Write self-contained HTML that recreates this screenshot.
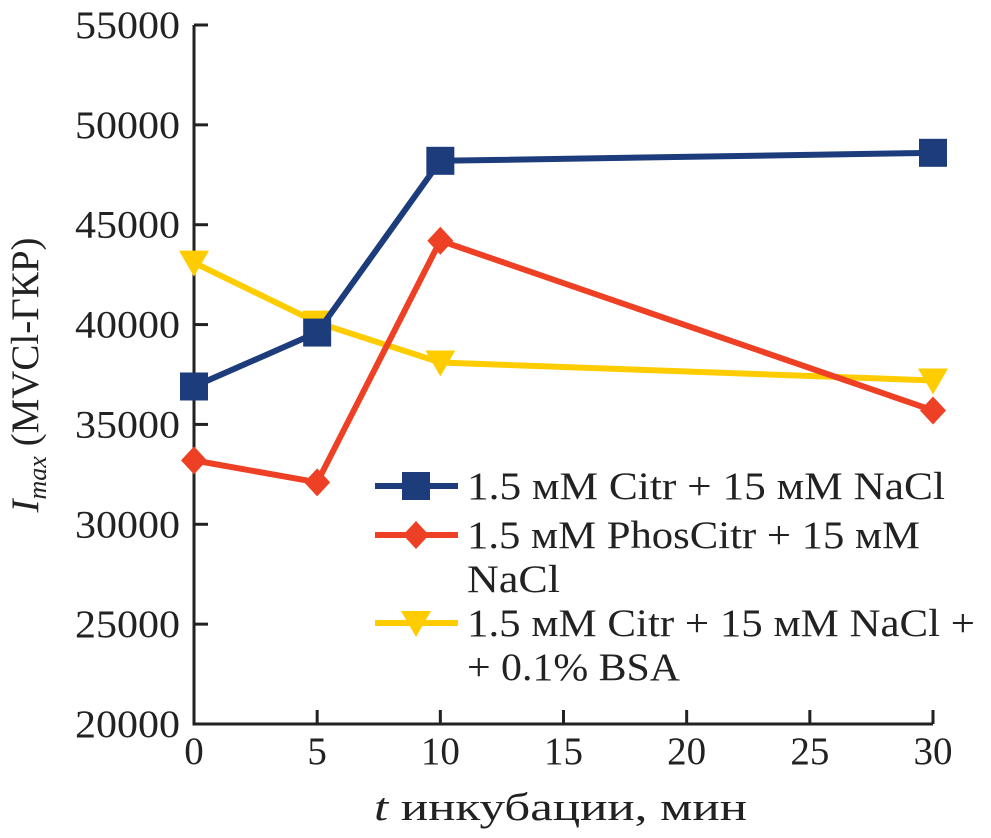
<!DOCTYPE html>
<html><head><meta charset="utf-8"><style>
html,body{margin:0;padding:0;background:#fff;}
svg{display:block;font-family:"Liberation Serif","DejaVu Serif",serif;}
</style></head><body>
<svg id="chart" width="991" height="838" viewBox="0 0 991 838">
<g id="axes"></g><g id="series"></g><g id="legend"></g>
</svg>
<script>
const xCats = [0, 5, 10, 30];
const xTicks = [0, 5, 10, 15, 20, 25, 30];
const yTicks = [20000, 25000, 30000, 35000, 40000, 45000, 50000, 55000];
const citr = [36900, 39600, 48200, 48600];
const phos = [33200, 32100, 44200, 35700];
const bsa = [43100, 40100, 38100, 37200];

const NS = "http://www.w3.org/2000/svg";
const X0 = 194, X1 = 933, Y0 = 724, Y1 = 25;
function xs(v){ return X0 + (v - 0) / 30 * (X1 - X0); }
function ys(v){ return Y0 - (v - 20000) / 35000 * (Y0 - Y1); }
function mk(tag, attrs, parent){ const e = document.createElementNS(NS, tag); for (const k in attrs) e.setAttribute(k, attrs[k]); parent.appendChild(e); return e; }
const axes = document.getElementById('axes'), ser = document.getElementById('series'), leg = document.getElementById('legend');

let a = mk('path', {d:`M${X0},${Y1} V${Y0} H${X1}`, fill:'none', stroke:'#222', 'stroke-width':3}, axes);


yTicks.forEach(t => {
  const y = ys(t);
  const l = mk('line', {x1:X0, x2:X0+14, y1:y, y2:y, stroke:'#222', 'stroke-width':3}, axes);
  
  
  const tx = mk('text', {x:X0-14, y:y+13, 'text-anchor':'end', 'font-size':39, fill:'#222', textLength:105, lengthAdjust:'spacingAndGlyphs'}, axes);
  tx.textContent = t;
  
  
});
xTicks.forEach(t => {
  const x = xs(t);
  const l = mk('line', {x1:x, x2:x, y1:Y0, y2:Y0-14, stroke:'#222', 'stroke-width':3}, axes);
  
  
  const tx = mk('text', {x:x, y:Y0+40, 'text-anchor':'middle', 'font-size':39, fill:'#222'}, axes);
  tx.textContent = t;
  
  
});
let xt = mk('text', {x:374, y:820, 'font-size':39, fill:'#222', textLength:373, lengthAdjust:'spacingAndGlyphs'}, axes);
xt.innerHTML = '<tspan font-style="italic">t</tspan> инкубации, мин';


let yt = mk('text', {x:0, y:0, 'text-anchor':'middle', 'font-size':39, fill:'#222', transform:'translate(38,375) rotate(-90)'}, axes);
yt.innerHTML = '<tspan font-style="italic">I</tspan><tspan font-style="italic" font-size="26" dy="8">max</tspan><tspan dy="-8"> (MVCl-ГКР)</tspan>';



function marker(type, x, y, color, g){
  if (type === 'sq') return mk('rect', {x:x-14, y:y-14, width:28, height:28, fill:color}, g);
  if (type === 'di') return mk('polygon', {points:`${x},${y-14} ${x+13},${y} ${x},${y+14} ${x-13},${y}`, fill:color}, g);
  return mk('polygon', {points:`${x-15},${y-12} ${x+15},${y-12} ${x},${y+14}`, fill:color}, g);
}
const defs = [
  {vals:bsa, color:'#ffcc00', m:'tri', name:'series-citr-nacl-bsa'},
  {vals:phos, color:'#ee4024', m:'di', name:'series-phoscitr-nacl'},
  {vals:citr, color:'#1d3c7c', m:'sq', name:'series-citr-nacl'}
];
defs.forEach(s => {
  const g = mk('g', {}, ser);
  
  
  const pts = s.vals.map((v,i) => xs(xCats[i]) + ',' + ys(v)).join(' ');
  const pl = mk('polyline', {points:pts, fill:'none', stroke:s.color, 'stroke-width':6, 'stroke-linejoin':'round'}, g);
  
  
  s.vals.forEach((v,i) => {
    const mm = marker(s.m, xs(xCats[i]), ys(v), s.color, g);
    
    
  });
});
const legItems = [
  {color:'#1d3c7c', m:'sq', y:486, lines:['1.5 мМ Citr + 15 мМ NaCl'], w:[478]},
  {color:'#ee4024', m:'di', y:535, lines:['1.5 мМ PhosCitr + 15 мМ','NaCl'], w:[453,93]},
  {color:'#ffcc00', m:'tri', y:623, lines:['1.5 мМ Citr + 15 мМ NaCl +','+ 0.1% BSA'], w:[508,213]}
];
legItems.forEach(it => {
  const g = mk('g', {}, leg);
  
  
  mk('line', {x1:375, x2:458, y1:it.y, y2:it.y, stroke:it.color, 'stroke-width':6}, g);
  marker(it.m, 416, it.y, it.color, g);
  it.lines.forEach((t,i) => {
    const tx = mk('text', {x:467, y:it.y+13+i*44, 'font-size':39, fill:'#222', textLength:it.w[i], lengthAdjust:'spacingAndGlyphs'}, g);
    tx.textContent = t;
  });
});
</script>
</body></html>
